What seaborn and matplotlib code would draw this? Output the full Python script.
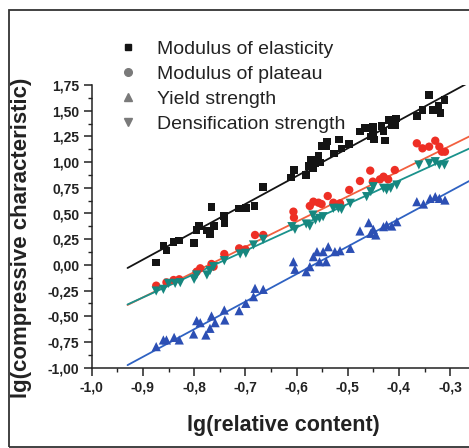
import numpy as np
import pandas as pd
import matplotlib
matplotlib.use("Agg")
import matplotlib.pyplot as plt
import seaborn as sns
from matplotlib.lines import Line2D
from matplotlib.patches import Rectangle
from matplotlib.ticker import MultipleLocator, FuncFormatter

# --- data ---
elast_x = [-0.874, -0.860, -0.854, -0.840, -0.829, -0.800, -0.795, -0.790, -0.775, -0.769,
           -0.766, -0.761, -0.742, -0.741, -0.712, -0.699, -0.682, -0.665, -0.611, -0.605,
           -0.582, -0.575, -0.572, -0.568, -0.563, -0.557, -0.554, -0.551, -0.540, -0.542,
           -0.527, -0.517, -0.512, -0.497, -0.476, -0.466, -0.458, -0.455, -0.451, -0.450,
           -0.449, -0.434, -0.430, -0.427, -0.419, -0.414, -0.408, -0.406, -0.365, -0.354,
           -0.341, -0.333, -0.323, -0.319, -0.311]
elast_y = [0.025, 0.187, 0.140, 0.220, 0.236, 0.213, 0.340, 0.378, 0.333, 0.300,
           0.563, 0.378, 0.476, 0.410, 0.547, 0.553, 0.573, 0.760, 0.852, 0.923,
           0.875, 0.965, 1.027, 0.943, 0.988, 1.060, 0.995, 1.157, 1.202, 1.150,
           1.085, 1.220, 1.134, 1.176, 1.296, 1.330, 1.330, 1.250, 1.280, 1.345,
           1.220, 1.350, 1.296, 1.210, 1.410, 1.360, 1.360, 1.426, 1.450, 1.507,
           1.653, 1.507, 1.546, 1.480, 1.604]

plateau_x = [-0.874, -0.854, -0.840, -0.829, -0.795, -0.788, -0.766, -0.762, -0.741, -0.712,
             -0.700, -0.681, -0.665, -0.606, -0.605, -0.574, -0.567, -0.557, -0.551, -0.539,
             -0.528, -0.515, -0.497, -0.476, -0.456, -0.451, -0.437, -0.430, -0.421, -0.408,
             -0.365, -0.354, -0.341, -0.329, -0.321, -0.316, -0.310]
plateau_y = [-0.202, -0.170, -0.147, -0.140, -0.066, -0.033, 0.009, -0.017, 0.106, 0.161,
             0.151, 0.291, 0.291, 0.518, 0.460, 0.573, 0.615, 0.605, 0.592, 0.670,
             0.605, 0.599, 0.729, 0.816, 0.917, 0.810, 0.832, 0.858, 0.832, 0.923,
             1.183, 1.134, 1.150, 1.208, 1.150, 1.101, 1.101]

yield_x = [-0.874, -0.860, -0.854, -0.839, -0.829, -0.801, -0.795, -0.788, -0.777, -0.769,
           -0.766, -0.759, -0.741, -0.740, -0.712, -0.699, -0.684, -0.681, -0.665, -0.606,
           -0.603, -0.581, -0.574, -0.567, -0.560, -0.555, -0.548, -0.542, -0.538, -0.525,
           -0.515, -0.495, -0.476, -0.459, -0.455, -0.450, -0.445, -0.430, -0.424, -0.414,
           -0.404, -0.365, -0.352, -0.339, -0.329, -0.321, -0.310]
yield_y = [-0.795, -0.730, -0.730, -0.705, -0.730, -0.672, -0.542, -0.562, -0.682, -0.617,
           -0.497, -0.562, -0.439, -0.536, -0.445, -0.374, -0.309, -0.228, -0.238, 0.031,
           -0.043, -0.066, -0.017, 0.080, 0.129, 0.031, 0.129, 0.031, 0.177, 0.129,
           0.138, 0.161, 0.330, 0.411, 0.307, 0.346, 0.291, 0.372, 0.388, 0.378,
           0.420, 0.615, 0.592, 0.647, 0.664, 0.647, 0.631]

dens_x = [-0.874, -0.860, -0.850, -0.837, -0.827, -0.800, -0.795, -0.775, -0.769, -0.762,
          -0.741, -0.710, -0.699, -0.684, -0.665, -0.609, -0.603, -0.581, -0.574, -0.568,
          -0.563, -0.555, -0.548, -0.528, -0.518, -0.512, -0.495, -0.463, -0.455, -0.450,
          -0.430, -0.424, -0.416, -0.404, -0.361, -0.341, -0.329, -0.321, -0.311]
dens_y = [-0.254, -0.238, -0.180, -0.180, -0.173, -0.140, -0.098, -0.098, -0.056, -0.017,
          0.041, 0.106, 0.113, 0.194, 0.249, 0.372, 0.346, 0.398, 0.378, 0.485,
          0.437, 0.453, 0.469, 0.550, 0.550, 0.540, 0.599, 0.664, 0.712, 0.761,
          0.745, 0.729, 0.745, 0.777, 0.972, 0.988, 1.004, 0.972, 0.972]

# fitted lines (end points)
fit_x = [-0.93, -0.25]
fit_elast = [-0.03, 1.81]
fit_plateau = [-0.39, 1.28]
fit_yield = [-0.975, 0.85]
fit_dens = [-0.385, 1.16]

labels = ["Modulus of elasticity", "Modulus of plateau", "Yield strength",
          "Densification strength"]

sns.set_theme(style="white")
plt.rcParams["font.family"] = ["Liberation Sans", "DejaVu Sans"]

fig = plt.figure(figsize=(4.69, 4.48), dpi=100)
ax = fig.add_axes([91.7 / 469, 80.3 / 448, 384 / 469, 282.7 / 448])

series = [
    (elast_x, elast_y, fit_elast, "s", "#141414", "#141414", 30),
    (plateau_x, plateau_y, fit_plateau, "o", "#ee2f25", "#f2603f", 36),
    (dens_x, dens_y, fit_dens, "v", "#16877f", "#1a928c", 44),
    (yield_x, yield_y, fit_yield, "^", "#2c4fb4", "#2f62c2", 44),
]
for xs, ys, fit, mk, col, lcol, size in series:
    df = pd.DataFrame({"x": xs, "y": ys})
    ax.plot(fit_x, fit, color=lcol, lw=1.3, zorder=2)
    sns.scatterplot(data=df, x="x", y="y", marker=mk, color=col, s=size,
                    edgecolor="none", ax=ax, zorder=3, legend=False)

ax.set_xlim(-1.0, -0.25)
ax.set_ylim(-1.0, 1.75)
for side in ["top", "right"]:
    ax.spines[side].set_visible(False)
for side in ["left", "bottom"]:
    ax.spines[side].set_color("#222222")
    ax.spines[side].set_linewidth(1.1)

ax.xaxis.set_major_locator(MultipleLocator(0.1))
ax.xaxis.set_minor_locator(MultipleLocator(0.05))
ax.yaxis.set_major_locator(MultipleLocator(0.25))
ax.yaxis.set_minor_locator(MultipleLocator(0.125))
ax.xaxis.set_major_formatter(FuncFormatter(lambda v, p: f"{v:.1f}".replace(".", ",")))
ax.yaxis.set_major_formatter(FuncFormatter(lambda v, p: f"{v:.2f}".replace(".", ",")))
ax.tick_params(which="major", direction="out", length=6, width=1.1, color="#222222",
               bottom=True, left=True, labelsize=10, pad=3)
ax.tick_params(which="minor", direction="out", length=3, width=1.0, color="#222222",
               bottom=True, left=True)
for t in ax.get_xticklabels() + ax.get_yticklabels():
    t.set_fontweight("bold")
    t.set_color("#222222")

ax.set_xlabel("lg(relative content)", fontsize=15.5, fontweight="bold", color="#222222")
ax.set_ylabel("lg(compressive characteristic)", fontsize=16, fontweight="bold",
              color="#222222")
ax.xaxis.set_label_coords(0.5, -0.167)
ax.yaxis.set_label_coords(-0.155, 0.46)

handles = [
    Line2D([], [], ls="", marker="s", color="#141414", markersize=5),
    Line2D([], [], ls="", marker="o", color="#7a7a7a", markersize=5.5),
    Line2D([], [], ls="", marker="^", color="#7a7a7a", markersize=6),
    Line2D([], [], ls="", marker="v", color="#7a7a7a", markersize=6),
]
fig.legend(handles, labels, loc="upper left", bbox_to_anchor=(118 / 469, 1 - 40 / 448),
           frameon=False, fontsize=14, handlelength=1.0, handletextpad=1.0,
           labelspacing=0.38, borderaxespad=0, borderpad=0, labelcolor="#222222")

fig.patches.append(Rectangle((9 / 469, 1 / 448), 2.0, 437 / 448, transform=fig.transFigure,
                             fill=False, edgecolor="#333333", lw=1.3))

fig.savefig("out.png", dpi=100)
